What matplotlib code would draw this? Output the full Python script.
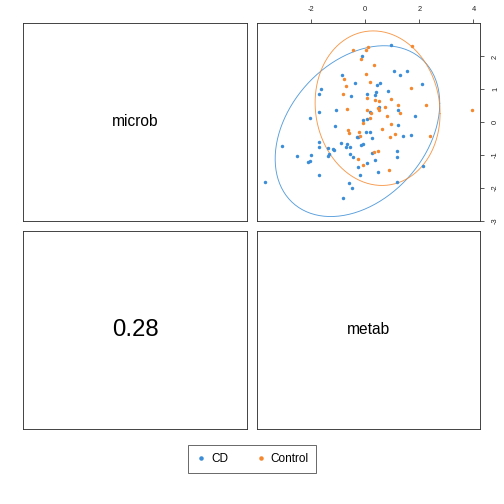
#!/usr/bin/env python3
"""pairs-style plot: microb vs metab, CD vs Control, with 95% ellipses"""
import matplotlib
matplotlib.use("Agg")
import matplotlib.pyplot as plt
from matplotlib.lines import Line2D
import numpy as np

plt.rcParams["font.family"] = ["Liberation Sans", "DejaVu Sans"]
plt.rcParams["axes.unicode_minus"] = False

# ---- data ----
cd_x = [0.96, -0.10, -0.86, 1.08, 1.30, 1.56, -0.38, 0.54, 0.44, 2.09,
        -1.63, 0.85, 0.39, -1.69, -0.51, 0.08, 0.38, -1.70, -1.06, 0.52,
        1.22, -2.02, -0.07, 0.08, 1.85, -1.11, 1.21, 0.04, 0.19, -0.31,
        -0.26, 1.41, 1.70, 0.27, -3.07, -1.70, -1.70, -0.89, -0.68, -0.71,
        -0.55, -0.17, -0.06, -1.38, -1.17, -1.15, 1.17, 0.26, -2.50, -1.98,
        -1.35, -1.36, -0.56, -0.43, 1.19, -2.03, -2.10, 0.06, 0.38, -0.27,
        2.13, 0.47, -3.71, -1.69, -0.20, 1.19, -0.58, -0.48, -0.80, 0.18]
cd_y = [2.34, 2.02, 1.43, 1.56, 1.45, 1.56, 1.19, 1.20, 1.12, 1.17,
        1.01, 0.96, 0.93, 0.85, 0.80, 0.86, 0.83, 0.30, 0.36, 0.47,
        0.38, 0.14, 0.07, 0.10, 0.20, -0.13, -0.09, -0.31, -0.31, -0.46,
        -0.46, -0.42, -0.40, -0.48, -0.74, -0.59, -0.75, -0.63, -0.68, -0.77,
        -0.77, -0.69, -0.65, -0.78, -0.81, -0.84, -0.89, -0.94, -1.03, -1.00,
        -0.97, -1.03, -0.97, -1.07, -1.06, -1.17, -1.22, -1.25, -1.15, -1.38,
        -1.33, -1.52, -1.82, -1.61, -1.61, -1.83, -1.84, -1.99, -2.30, 0.32]

ctrl_x = [-0.45, 0.04, 0.12, 1.72, -0.14, 0.34, 0.02, -0.77, 0.18, -0.72,
          1.70, -0.81, 0.08, 0.38, 0.53, 0.97, 1.23, 2.26, 3.94, -0.68,
          0.06, 0.46, 0.52, 0.74, 0.20, 0.18, 0.81, 1.29, -0.08, 0.94,
          0.64, -0.64, -0.58, -0.21, -0.20, 0.91, 1.09, 2.38, 0.32, 0.46,
          -0.25, -0.07, 0.88]
ctrl_y = [2.19, 2.20, 2.28, 2.31, 1.93, 1.75, 1.47, 1.30, 1.22, 1.10,
          1.03, 0.85, 0.74, 0.69, 0.64, 0.72, 0.53, 0.51, 0.37, 0.41,
          0.38, 0.42, 0.38, 0.46, 0.28, 0.13, 0.18, 0.28, -0.03, -0.06,
          -0.20, -0.23, -0.32, -0.29, -0.41, -0.45, -0.35, -0.43, -0.91, -0.87,
          -1.13, -1.29, -1.47]

groups = ["CD", "Control"]
colors = {"CD": "#3a8dd6", "Control": "#f5882e"}
var_names = ["microb", "metab"]
corr_label = "0.28"


def ellipse(x, y, level=0.95, n=200):
    """normal-theory confidence ellipse from the sample covariance"""
    x = np.asarray(x); y = np.asarray(y)
    cov = np.cov(x, y)
    r = np.sqrt(-2 * np.log(1 - level))  # chi2 quantile, df=2
    L = np.linalg.cholesky(cov)
    t = np.linspace(0, 2 * np.pi, n)
    pts = L @ np.vstack([np.cos(t), np.sin(t)]) * r
    return x.mean() + pts[0], y.mean() + pts[1]


W = H = 504
fig = plt.figure(figsize=(7, 7), dpi=72)


def box(x0, y0, x1, y1):
    # pixel box -> figure axes
    return fig.add_axes([x0 / W, 1 - y1 / H, (x1 - x0) / W, (y1 - y0) / H])


ax_tl = box(23, 23, 247, 221)
ax_tr = box(257, 23, 480, 221)
ax_bl = box(23, 231, 247, 429)
ax_br = box(257, 231, 480, 429)

for ax in (ax_tl, ax_bl, ax_br):
    ax.set_xticks([]); ax.set_yticks([])
for ax in (ax_tl, ax_tr, ax_bl, ax_br):
    for s in ax.spines.values():
        s.set_linewidth(0.9); s.set_color("#333333")

ax_tl.text(0.5, 0.5, var_names[0], ha="center", va="center", fontsize=15.5,
           transform=ax_tl.transAxes)
ax_br.text(0.5, 0.5, var_names[1], ha="center", va="center", fontsize=15.5,
           transform=ax_br.transAxes)
ax_bl.text(0.5, 0.5, corr_label, ha="center", va="center", fontsize=24,
           transform=ax_bl.transAxes)

# === scatter panel ===
for g, xs, ys in (("CD", cd_x, cd_y), ("Control", ctrl_x, ctrl_y)):
    ax_tr.scatter(xs, ys, s=12, color=colors[g], linewidths=0, zorder=3)
    ex, ey = ellipse(xs, ys)
    ax_tr.plot(ex, ey, color=colors[g], linewidth=0.9, alpha=0.85, zorder=2)

ax_tr.set_xlim(-3.99, 4.24)
ax_tr.set_ylim(-3.01, 3.02)
ax_tr.xaxis.tick_top()
ax_tr.yaxis.tick_right()
ax_tr.set_xticks([-2, 0, 2, 4])
ax_tr.set_yticks([-3, -2, -1, 0, 1, 2])
ax_tr.tick_params(axis="both", length=4, width=0.8, labelsize=7.5, pad=6,
                  colors="#333333", labelcolor="#222222")
ax_tr.tick_params(axis="y", pad=8)
for lab in ax_tr.get_yticklabels():
    lab.set_rotation(90); lab.set_va("center")

# === legend ===
handles = [Line2D([], [], linestyle="none", marker="o", markersize=4.5,
                  markeredgewidth=0, color=colors[g], label=g) for g in groups]
leg = fig.legend(handles=handles, loc="center", ncol=2,
                 bbox_to_anchor=(252 / W, 1 - 459 / H), fontsize=11.7,
                 frameon=True, fancybox=False, edgecolor="#333333",
                 handlelength=1.0, handletextpad=0.35, columnspacing=2.3,
                 borderpad=0.65, borderaxespad=0)
leg.get_frame().set_linewidth(0.9)

fig.savefig("out.png", dpi=72)
